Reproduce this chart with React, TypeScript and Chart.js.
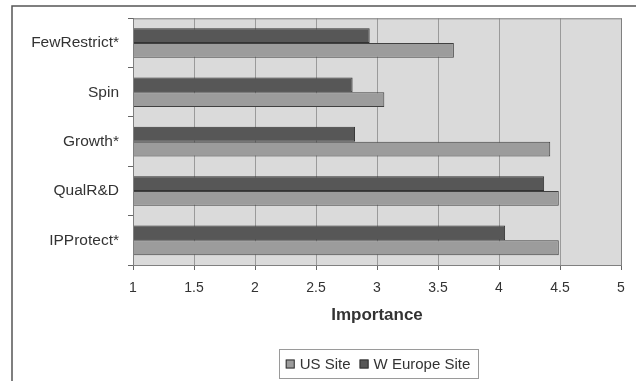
import React, { useEffect, useRef } from "react";
import { Chart, registerables } from "chart.js";

Chart.register(...registerables);

const categories = ["FewRestrict*", "Spin", "Growth*", "QualR&D", "IPProtect*"];
const usSite = [3.63, 3.06, 4.42, 4.49, 4.49];
const wEuropeSite = [2.94, 2.8, 2.82, 4.37, 4.05];
const seriesNames = ["US Site", "W Europe Site"];
const xTicks = [1, 1.5, 2, 2.5, 3, 3.5, 4, 4.5, 5];

const FONT = "'Liberation Sans', Arial, sans-serif";

const framePlugin = {
  id: "frame",
  beforeDraw(chart: any) {
    const { ctx, chartArea } = chart;
    ctx.save();
    ctx.fillStyle = "#ffffff";
    ctx.fillRect(0, 0, chart.width, chart.height);
    ctx.strokeStyle = "#555555";
    ctx.lineWidth = 1.5;
    ctx.strokeRect(12, 6, 800, 600);
    ctx.fillStyle = "#dadada";
    ctx.fillRect(chartArea.left, chartArea.top, chartArea.right - chartArea.left, chartArea.bottom - chartArea.top);
    ctx.restore();
  },
  afterDatasetsDraw(chart: any) {
    const { ctx, chartArea } = chart;
    ctx.save();
    ctx.strokeStyle = "#808080";
    ctx.lineWidth = 1;
    ctx.strokeRect(chartArea.left + 0.5, chartArea.top + 0.5, chartArea.right - chartArea.left, chartArea.bottom - chartArea.top);
    ctx.restore();
  },
  afterDraw(chart: any) {
    const { ctx } = chart;
    const ds = chart.data.datasets;
    const items = [ds[1], ds[0]];
    ctx.save();
    ctx.font = `15px ${FONT}`;
    ctx.textBaseline = "middle";
    const box = 9;
    const gapBoxText = 5;
    const gapItems = 9;
    const widths = items.map((d: any) => box + gapBoxText + ctx.measureText(d.label).width);
    const total = widths.reduce((a: number, b: number) => a + b, 0) + gapItems * (items.length - 1);
    const cx = 378;
    const cy = 364;
    const padX = 7;
    const left = cx - total / 2;
    ctx.strokeStyle = "#9a9a9a";
    ctx.lineWidth = 1;
    ctx.strokeRect(Math.round(left - padX) + 0.5, 349.5, Math.round(total + padX * 2), 29);
    let x = left;
    items.forEach((d: any, i: number) => {
      ctx.fillStyle = d.backgroundColor;
      ctx.fillRect(x, cy - box / 2, box, box);
      ctx.strokeStyle = "#333333";
      ctx.strokeRect(x + 0.5, cy - box / 2 + 0.5, box - 1, box - 1);
      ctx.fillStyle = "#333333";
      ctx.fillText(d.label, x + box + gapBoxText, cy + 1);
      x += widths[i] + gapItems;
    });
    ctx.restore();
  },
};

export default function App() {
  const ref = useRef<HTMLCanvasElement | null>(null);
  useEffect(() => {
    if (!ref.current) return;
    const chart = new Chart(ref.current, {
      type: "bar",
      data: {
        labels: categories,
        datasets: [
          {
            label: seriesNames[1],
            data: wEuropeSite,
            backgroundColor: "#575757",
            borderColor: "#333333",
            borderWidth: 1,
            barPercentage: 1,
            categoryPercentage: 0.6,
          },
          {
            label: seriesNames[0],
            data: usSite,
            backgroundColor: "#9c9c9c",
            borderColor: "#404040",
            borderWidth: 1,
            barPercentage: 1,
            categoryPercentage: 0.6,
          },
        ],
      },
      options: {
        indexAxis: "y",
        animation: false,
        responsive: false,
        maintainAspectRatio: false,
        layout: { padding: { left: 0, top: 18, right: 15, bottom: 46 } },
        plugins: {
          legend: { display: false },
          tooltip: { enabled: false },
        },
        scales: {
          x: {
            type: "linear",
            min: 1,
            max: 5,
            afterBuildTicks: (scale: any) => {
              scale.ticks = xTicks.map((v) => ({ value: v }));
            },
            afterFit: (scale: any) => {
              scale.height = 70;
            },
            border: { display: true, color: "#666666", width: 1 },
            grid: {
              color: "#9a9a9a",
              tickColor: "#666666",
              tickLength: 5,
              drawOnChartArea: true,
            },
            ticks: {
              color: "#333333",
              font: { family: FONT, size: 14 },
              padding: 10,
              maxRotation: 0,
              callback: (v: any) => String(v),
            },
            title: {
              display: true,
              text: "Importance",
              color: "#333333",
              font: { family: FONT, size: 17, weight: "bold" },
              padding: { top: 0, bottom: 9 },
            },
          },
          y: {
            afterFit: (scale: any) => {
              scale.width = 133;
            },
            border: { display: true, color: "#666666", width: 1 },
            grid: {
              offset: true,
              drawOnChartArea: false,
              tickColor: "#666666",
              tickLength: 5,
            },
            ticks: {
              color: "#333333",
              font: { family: FONT, size: 15.5 },
              padding: 9,
            },
          },
        },
      },
      plugins: [framePlugin],
    } as any);
    return () => chart.destroy();
  }, []);
  return (
    <div style={{ position: "fixed", left: 0, top: 0, width: 636, height: 381 }}>
      <canvas ref={ref} width={636} height={381} style={{ width: 636, height: 381, display: "block" }} />
    </div>
  );
}
